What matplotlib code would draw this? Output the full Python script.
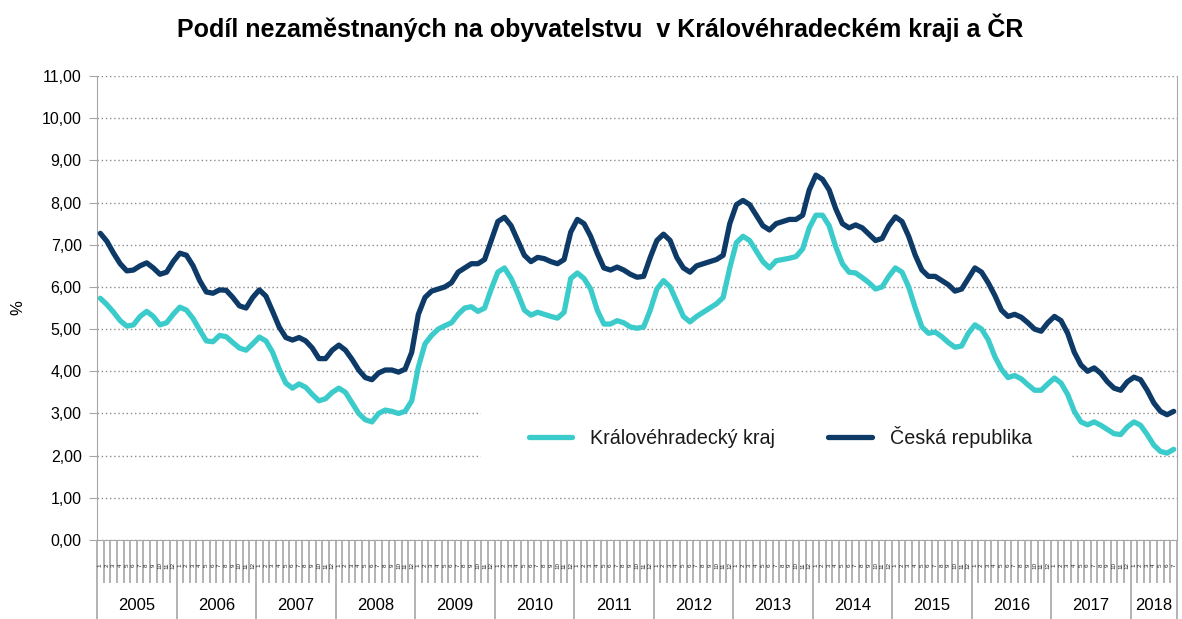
import numpy as np
import matplotlib
matplotlib.use("Agg")
import matplotlib.pyplot as plt
from matplotlib.patches import Rectangle
from matplotlib.transforms import blended_transform_factory

plt.rcParams['font.family'] = ['Liberation Sans', 'DejaVu Sans']

years = [2005, 2006, 2007, 2008, 2009, 2010, 2011, 2012, 2013, 2014, 2015, 2016, 2017, 2018]

# Česká republika, monthly, Jan 2005 - Jul 2018
cr = [
    7.27, 7.08, 6.80, 6.55, 6.38, 6.40, 6.50, 6.57, 6.45, 6.30, 6.35, 6.60,
    6.80, 6.75, 6.50, 6.15, 5.88, 5.85, 5.93, 5.92, 5.75, 5.55, 5.50, 5.75,
    5.93, 5.78, 5.42, 5.05, 4.80, 4.74, 4.80, 4.72, 4.55, 4.30, 4.30, 4.50,
    4.62, 4.50, 4.28, 4.03, 3.85, 3.80, 3.96, 4.03, 4.03, 3.98, 4.05, 4.45,
    5.35, 5.75, 5.90, 5.95, 6.00, 6.10, 6.35, 6.45, 6.55, 6.55, 6.65, 7.10,
    7.55, 7.65, 7.45, 7.10, 6.75, 6.60, 6.70, 6.67, 6.60, 6.55, 6.65, 7.30,
    7.60, 7.50, 7.20, 6.80, 6.45, 6.40, 6.47, 6.40, 6.30, 6.23, 6.25, 6.70,
    7.10, 7.25, 7.10, 6.70, 6.45, 6.35, 6.50, 6.55, 6.60, 6.65, 6.75, 7.50,
    7.95, 8.05, 7.95, 7.70, 7.45, 7.35, 7.50, 7.55, 7.60, 7.60, 7.70, 8.30,
    8.65, 8.55, 8.30, 7.85, 7.50, 7.40, 7.47, 7.40, 7.25, 7.10, 7.15, 7.45,
    7.66, 7.55, 7.20, 6.75, 6.40, 6.25, 6.25, 6.15, 6.05, 5.90, 5.95, 6.20,
    6.45, 6.35, 6.10, 5.80, 5.45, 5.30, 5.35, 5.28, 5.15, 5.00, 4.95, 5.15,
    5.30, 5.20, 4.90, 4.45, 4.15, 4.00, 4.08, 3.95, 3.75, 3.60, 3.55, 3.75,
    3.86, 3.80, 3.55, 3.25, 3.05, 2.97, 3.05,
]

# Královéhradecký kraj
khk = [
    5.73, 5.58, 5.40, 5.20, 5.07, 5.10, 5.30, 5.42, 5.30, 5.10, 5.15, 5.35,
    5.52, 5.45, 5.25, 4.98, 4.72, 4.70, 4.85, 4.82, 4.68, 4.55, 4.50, 4.65,
    4.81, 4.72, 4.45, 4.05, 3.72, 3.60, 3.70, 3.62, 3.45, 3.30, 3.35, 3.50,
    3.60, 3.50, 3.25, 3.00, 2.85, 2.80, 3.00, 3.08, 3.05, 3.00, 3.05, 3.30,
    4.10, 4.65, 4.85, 5.00, 5.08, 5.15, 5.35, 5.50, 5.53, 5.42, 5.50, 5.95,
    6.35, 6.45, 6.20, 5.85, 5.45, 5.33, 5.40, 5.35, 5.30, 5.26, 5.40, 6.20,
    6.33, 6.20, 5.95, 5.45, 5.12, 5.12, 5.20, 5.15, 5.05, 5.02, 5.05, 5.45,
    5.95, 6.15, 6.00, 5.65, 5.30, 5.17, 5.30, 5.40, 5.50, 5.60, 5.75, 6.45,
    7.05, 7.20, 7.10, 6.85, 6.60, 6.45, 6.62, 6.65, 6.68, 6.72, 6.90, 7.40,
    7.70, 7.70, 7.45, 6.95, 6.55, 6.35, 6.33, 6.22, 6.10, 5.95, 6.00, 6.25,
    6.45, 6.35, 6.00, 5.50, 5.05, 4.90, 4.93, 4.82, 4.68, 4.57, 4.60, 4.90,
    5.10, 5.00, 4.75, 4.35, 4.05, 3.85, 3.90, 3.82, 3.68, 3.55, 3.55, 3.70,
    3.84, 3.72, 3.45, 3.05, 2.80, 2.73, 2.80, 2.72, 2.62, 2.52, 2.50, 2.68,
    2.80, 2.72, 2.50, 2.25, 2.10, 2.06, 2.15,
]

n = len(cr)
x = np.arange(n)
grey = '#A6A6A6'

fig = plt.figure(figsize=(11.82, 6.19), dpi=100)
ax = fig.add_axes([97 / 1182, 1 - 540 / 619, 1080 / 1182, 464 / 619])

ax.plot(x, khk, color='#3CCBCB', lw=3.8, solid_joinstyle='round', solid_capstyle='round',
        label='Královéhradecký kraj', zorder=3)
ax.plot(x, cr, color='#0E3A68', lw=3.8, solid_joinstyle='round', solid_capstyle='round',
        label='Česká republika', zorder=3)

ax.set_xlim(-0.5, n - 0.5)
ax.set_ylim(0, 11)
ax.set_yticks(range(0, 12))
ax.set_yticklabels([f"{v:.2f}".replace('.', ',') for v in range(0, 12)], fontsize=11.5)
ax.yaxis.grid(True, linestyle=(0, (1, 2)), color='#8C8C8C', lw=1)
ax.set_axisbelow(True)
ax.set_ylabel('%', fontsize=12, labelpad=12)
ax.tick_params(axis='y', length=6, color=grey, pad=5)

ax.spines['top'].set_visible(False)
for s in ['left', 'right', 'bottom']:
    ax.spines[s].set_color(grey)

# white legend area hiding the gridlines
ax.add_patch(Rectangle((0.3556, 0.151), 0.5463, 0.14, transform=ax.transAxes,
                       facecolor='white', edgecolor='none', zorder=1))

# month ticks and year separators
ax.set_xticks(np.arange(-0.5, n, 1), minor=True)
ax.set_xticks([12 * k - 0.5 for k in range(len(years))] + [n - 0.5])
ax.set_xticklabels([])
ax.tick_params(axis='x', which='minor', length=31, color=grey, width=1.2)
ax.tick_params(axis='x', which='major', length=58, color=grey, width=1.2)

tr = blended_transform_factory(ax.transData, ax.transAxes)
for i in range(n):
    ax.text(i, -0.055, str(i % 12 + 1), transform=tr, rotation=90, fontsize=4.5,
            ha='center', va='center', color='#222222')
for k, yr in enumerate(years):
    start = 12 * k - 0.5
    end = min(12 * k + 11.5, n - 0.5)
    ax.text((start + end) / 2, -0.142, str(yr), transform=tr, fontsize=12,
            ha='center', va='center')

leg = ax.legend(loc='center left', bbox_to_anchor=((529 - 97) / 1080, (540 - 437) / 464),
                ncol=2, frameon=False, fontsize=14.2, handlelength=2.2,
                handletextpad=0.9, columnspacing=2.7, borderpad=0, borderaxespad=0)
for t in leg.get_texts():
    t.set_color('#1a1a1a')

fig.text(0.508, 1 - 28 / 619, 'Podíl nezaměstnaných na obyvatelstvu  v Královéhradeckém kraji a ČR',
         ha='center', va='center', fontsize=18, fontweight='bold')

fig.savefig('out.png', dpi=100)
